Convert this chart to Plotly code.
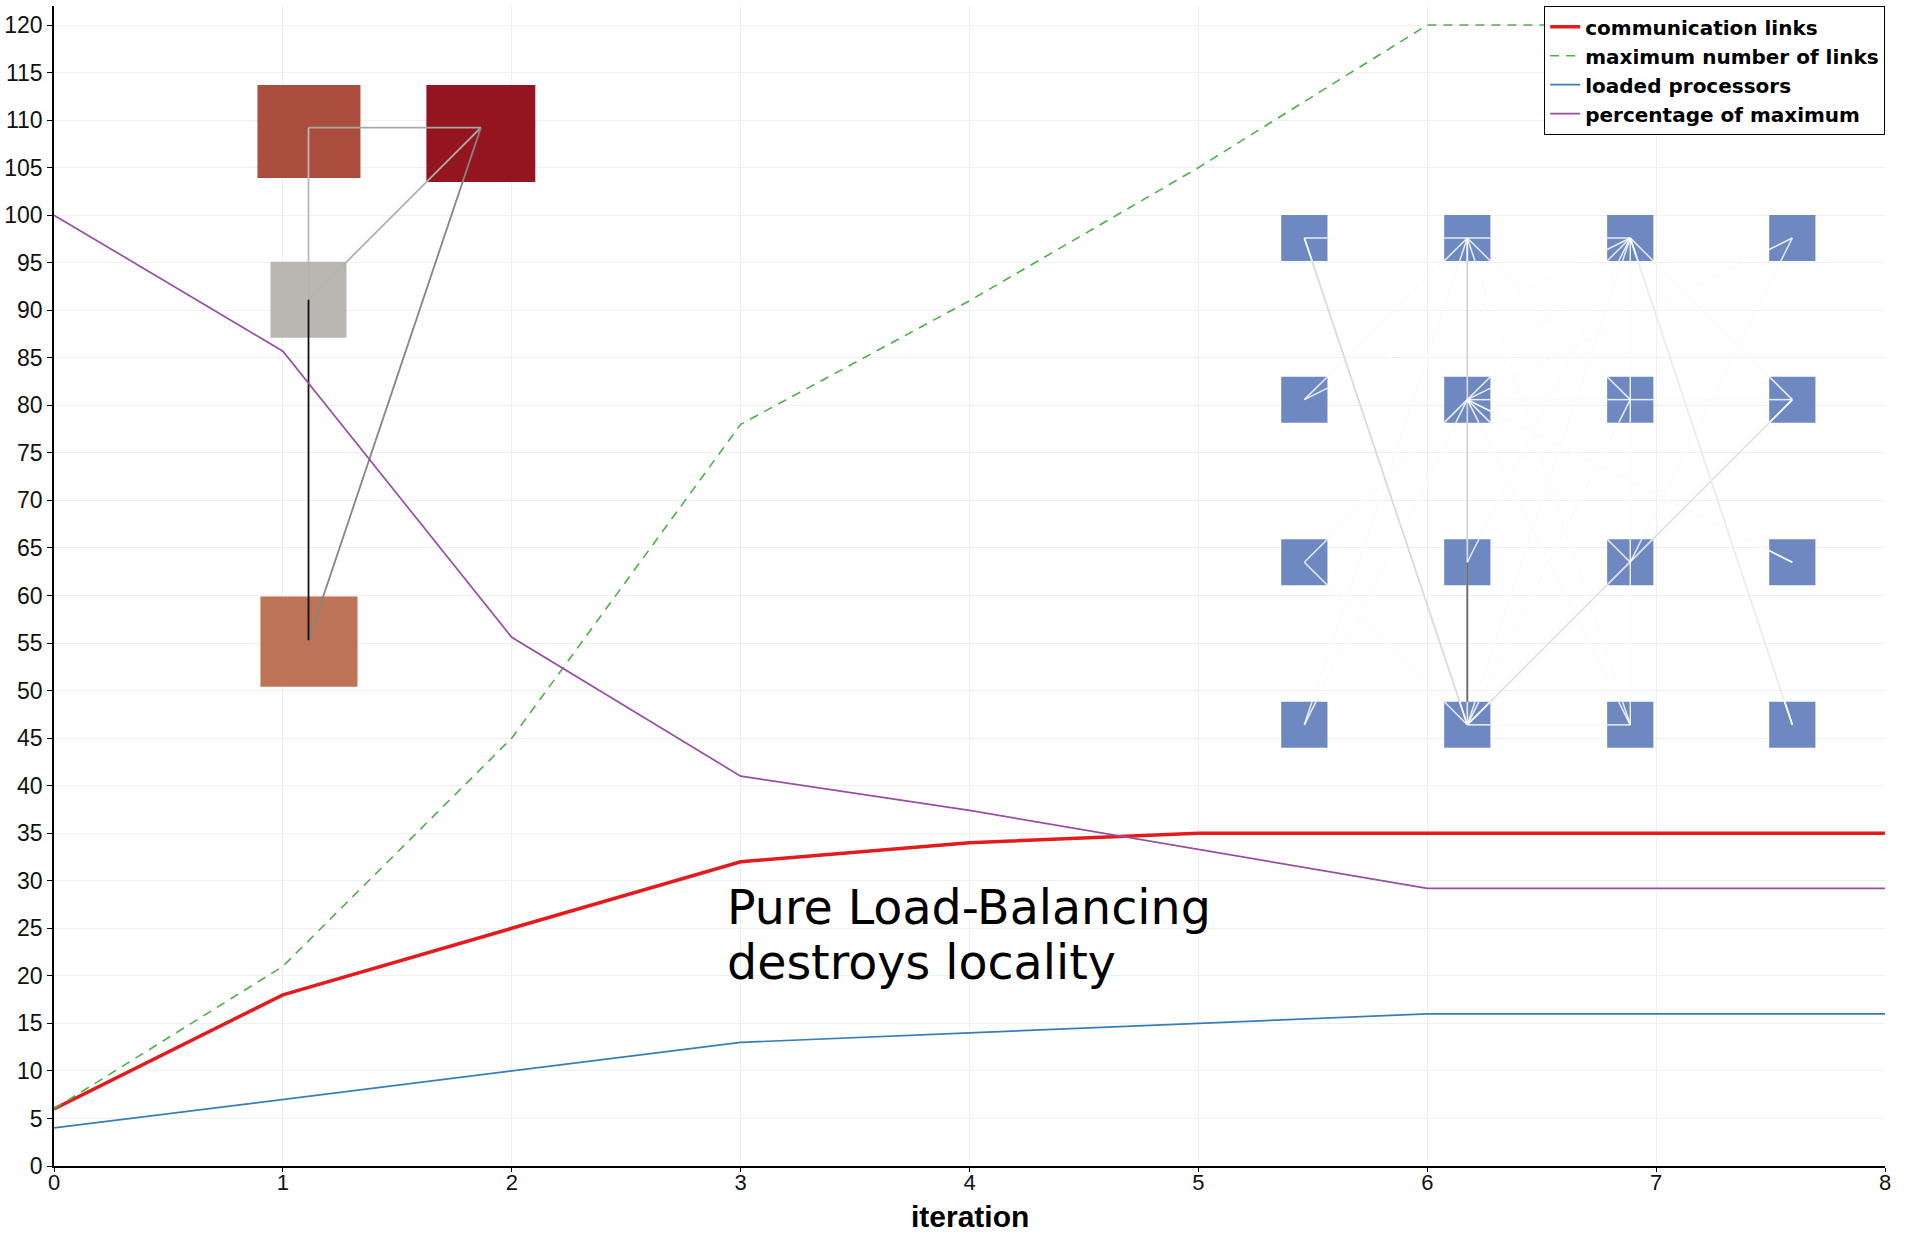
import plotly.graph_objects as go

# ---------------- data ----------------
iterations = [0, 1, 2, 3, 4, 5, 6, 7, 8]
comm_links = [6, 18, 25, 32, 34, 35, 35, 35, 35]
max_links = [6, 21, 45, 78, 91, 105, 120, 120, 120]
loaded_procs = [4, 7, 10, 13, 14, 15, 16, 16, 16]
pct_max = [100, 85.7, 55.6, 41.0, 37.4, 33.3, 29.2, 29.2, 29.2]

series_names = ["communication links", "maximum number of links",
                "loaded processors", "percentage of maximum"]
x_ticks = [0, 1, 2, 3, 4, 5, 6, 7, 8]
y_ticks = list(range(0, 121, 5))
note_lines = ["Pure Load-Balancing", "destroys locality"]
x_title = "iteration"

# inset 1: small process graph (data coordinates)
cluster_node_x = [1.112, 1.865, 1.112, 1.112]
cluster_node_y = [109.2, 109.2, 91.1, 55.3]
cluster_box_x0 = [0.889, 1.627, 0.946, 0.902]
cluster_box_x1 = [1.339, 2.103, 1.278, 1.326]
cluster_box_y0 = [103.9, 103.5, 87.1, 50.4]
cluster_box_y1 = [113.7, 113.7, 95.1, 59.9]
cluster_colors = ["#ab4d3c", "#94141f", "#b5b2ac", "#bd7355"]
cluster_edges = [(0, 1, "#a8a8a8"), (0, 2, "#b8b8b8"), (1, 2, "#b0b0b0"),
                 (1, 3, "#858585")]
cluster_black_edge = (2, 3, "#111111")

# inset 2: 4x4 processor grid
grid_col_x = [5.463, 6.175, 6.887, 7.595]
grid_row_y = [97.6, 80.6, 63.5, 46.4]
grid_half_w = 0.101
grid_half_h = 2.42
grid_color = "#6e89c2"
# prominent links (drawn above squares)
grid_main_edges = [((0, 0), (3, 1), "#dadada", True),
                   ((0, 1), (3, 1), "#d4d4d4", True),
                   ((1, 3), (3, 1), "#e2e2e2", True),
                   ((0, 2), (3, 3), "#ececec", True),
                   ((2, 1), (3, 1), "#6a6a6a", False)]
# faint links
grid_faint_edges = [((0, 0), (0, 1)), ((0, 1), (0, 2)), ((0, 1), (1, 0)),
                    ((0, 1), (1, 2)), ((0, 1), (3, 0)), ((0, 1), (3, 2)),
                    ((0, 2), (1, 0)), ((0, 2), (1, 1)), ((0, 2), (2, 1)),
                    ((0, 2), (1, 3)), ((0, 3), (1, 1)), ((0, 3), (2, 2)),
                    ((1, 1), (2, 3)), ((1, 1), (2, 2)), ((1, 1), (3, 2)),
                    ((1, 2), (1, 1)), ((1, 2), (1, 3)), ((1, 2), (2, 2)),
                    ((1, 2), (0, 2)), ((1, 2), (3, 1)), ((2, 0), (1, 1)),
                    ((2, 0), (3, 1)), ((2, 3), (1, 1)), ((3, 1), (3, 2)),
                    ((3, 1), (0, 2)), ((3, 0), (1, 1)), ((2, 2), (3, 2))]

colors = ["#e41a1c", "#4daf4a", "#377eb8", "#984ea3"]

# ---------------- figure ----------------
fig = go.Figure()
fig.add_trace(go.Scatter(x=iterations, y=comm_links, mode="lines", name=series_names[0],
                         line=dict(color=colors[0], width=3.5)))
fig.add_trace(go.Scatter(x=iterations, y=max_links, mode="lines", name=series_names[1],
                         line=dict(color=colors[1], width=1.6, dash="9px,7px")))
fig.add_trace(go.Scatter(x=iterations, y=loaded_procs, mode="lines", name=series_names[2],
                         line=dict(color=colors[2], width=1.7)))
fig.add_trace(go.Scatter(x=iterations, y=pct_max, mode="lines", name=series_names[3],
                         line=dict(color=colors[3], width=1.7)))

shapes = []


def seg(x0, y0, x1, y1, color, width):
    shapes.append(dict(type="line", xref="x", yref="y", x0=x0, y0=y0, x1=x1, y1=y1,
                       line=dict(color=color, width=width), layer="between"))


def rect(x0, y0, x1, y1, color, opacity=1.0):
    shapes.append(dict(type="rect", xref="x", yref="y", x0=x0, y0=y0, x1=x1, y1=y1,
                       fillcolor=color, line=dict(width=0), opacity=opacity, layer="between"))


# left cluster
for i in (0, 1, 3):
    rect(cluster_box_x0[i], cluster_box_y0[i], cluster_box_x1[i], cluster_box_y1[i], cluster_colors[i])
for a, b, c in cluster_edges:
    seg(cluster_node_x[a], cluster_node_y[a], cluster_node_x[b], cluster_node_y[b], c, 1.8)
rect(cluster_box_x0[2], cluster_box_y0[2], cluster_box_x1[2], cluster_box_y1[2], cluster_colors[2], 0.93)
a, b, c = cluster_black_edge
seg(cluster_node_x[a], cluster_node_y[a], cluster_node_x[b], cluster_node_y[b], c, 1.8)


def node(rc):
    return grid_col_x[rc[1]], grid_row_y[rc[0]]


# grid: faint links under squares
for p, q in grid_faint_edges:
    x0, y0 = node(p)
    x1, y1 = node(q)
    seg(x0, y0, x1, y1, "#fbfbfb", 1.2)
# squares
for ry in grid_row_y:
    for cx in grid_col_x:
        rect(cx - grid_half_w, ry - grid_half_h, cx + grid_half_w, ry + grid_half_h, grid_color)
# main links above squares
for p, q, c, _ in grid_main_edges:
    x0, y0 = node(p)
    x1, y1 = node(q)
    seg(x0, y0, x1, y1, c, 1.8)


def inner(p, q):
    x0, y0 = node(p)
    x1, y1 = node(q)
    dx, dy = x1 - x0, y1 - y0
    t = min(grid_half_w / abs(dx) if dx else 9e9, grid_half_h / abs(dy) if dy else 9e9)
    seg(x0, y0, x0 + dx * t, y0 + dy * t, "rgba(255,255,255,0.85)", 1.5)


for p, q in grid_faint_edges:
    inner(p, q)
    inner(q, p)
for p, q, c, white in grid_main_edges:
    if white:
        inner(p, q)
        inner(q, p)

tick_font = dict(family="Liberation Sans, Arial, sans-serif", size=23, color="#111111")
xtick_font = dict(family="Liberation Sans, Arial, sans-serif", size=22, color="#111111")
note_font = dict(family="DejaVu Sans, sans-serif", size=47.5, color="black")

annotations = [
    dict(x=2.93, y=27.2, xref="x", yref="y", xanchor="left", yanchor="middle",
         showarrow=False, text=note_lines[0], font=note_font),
    dict(x=2.93, y=21.4, xref="x", yref="y", xanchor="left", yanchor="middle",
         showarrow=False, text=note_lines[1], font=note_font),
    dict(x=0.5, y=0, xref="paper", yref="paper", xanchor="center", yanchor="middle",
         yshift=-50, showarrow=False, text="<b>" + x_title + "</b>",
         font=dict(family="Liberation Sans, Arial, sans-serif", size=30, color="black")),
]

fig.update_layout(
    width=1906, height=1236,
    margin=dict(l=54, r=21, t=6, b=70, autoexpand=False),
    paper_bgcolor="white", plot_bgcolor="white",
    showlegend=True,
    legend=dict(x=1, xanchor="right", y=1, yanchor="top",
                bgcolor="white", bordercolor="black", borderwidth=1.2,
                font=dict(family="DejaVu Sans, sans-serif", size=20,
                          color="black", weight="bold"),
                itemwidth=30, tracegroupgap=0),
    shapes=shapes,
    annotations=annotations,
)
fig.update_xaxes(range=[0, 8], tickvals=x_ticks, ticktext=[str(v) for v in x_ticks],
                 showline=True, linecolor="black", linewidth=1.5,
                 ticks="outside", ticklen=4, tickcolor="black", tickwidth=1.2,
                 ticklabelstandoff=-8,
                 showgrid=True, gridcolor="#f0f0f0", gridwidth=1, zeroline=False,
                 tickfont=xtick_font)
fig.update_yaxes(range=[0, 122], tickvals=y_ticks, ticktext=[str(v) for v in y_ticks],
                 showline=True, linecolor="black", linewidth=1.5,
                 ticks="outside", ticklen=5, tickcolor="black", tickwidth=1.2,
                 showgrid=True, gridcolor="#f0f0f0", gridwidth=1, zeroline=False,
                 tickfont=tick_font)

fig.write_html("out.html")
